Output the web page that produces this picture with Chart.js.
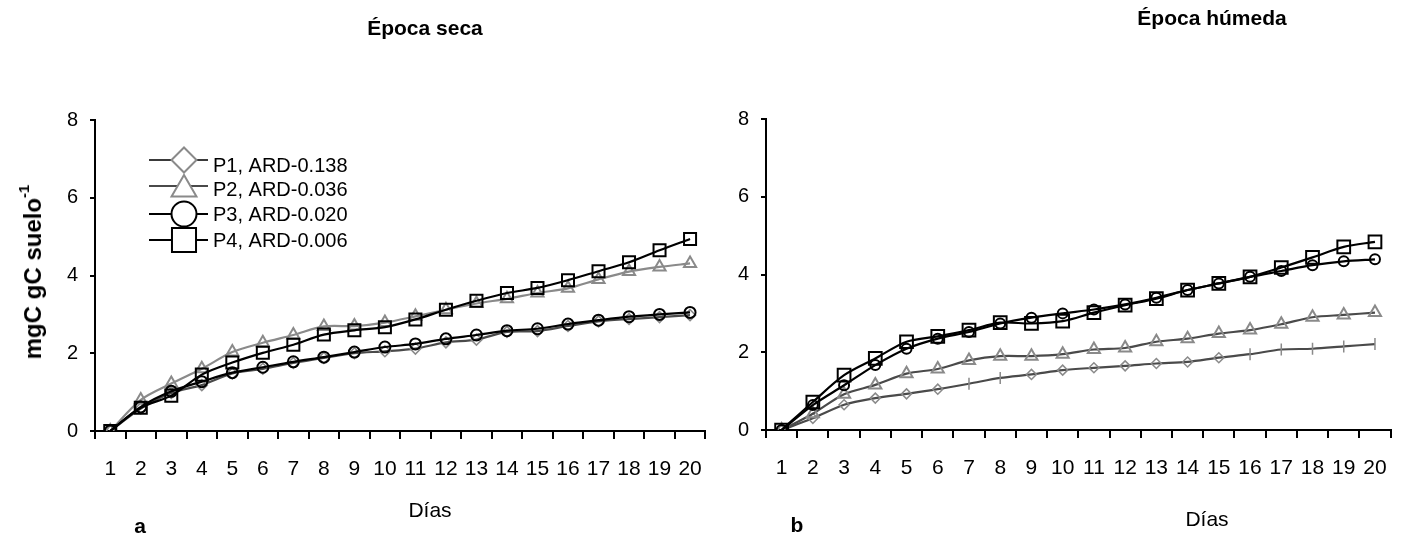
<!DOCTYPE html>
<html lang="es">
<head>
<meta charset="utf-8">
<script src="https://cdn.jsdelivr.net/npm/chart.js@4.4.1/dist/chart.umd.min.js"></script>
<style>
  body { margin: 0; background: #fff; font-family: "Liberation Sans", Arial, sans-serif; }
  #lienzo { position: relative; width: 1405px; height: 538px; overflow: hidden; }
  .caja { position: absolute; top: 0; height: 538px; }
  .txt { position: absolute; white-space: nowrap; color: #000; transform: translate(-50%, -50%); line-height: 1; }
  .titulo { font-weight: bold; font-size: 21px; }
  .eje { font-size: 21px; }
  .letra { font-weight: bold; font-size: 21px; }
  #ylab { font-weight: bold; font-size: 24px; transform: translate(-50%, -50%) rotate(-90deg); }
  #ylab sup { font-size: 15px; position: relative; top: -3px; }
</style>
</head>
<body>
<div id="lienzo">
  <div class="caja" style="left:0;width:720px"><canvas id="graficoSeca"></canvas></div>
  <div class="caja" style="left:720px;width:685px"><canvas id="graficoHumeda"></canvas></div>

  <div class="txt titulo" style="left:425px;top:27px">Época seca</div>
  <div class="txt titulo" style="left:1212px;top:17px">Época húmeda</div>
  <div class="txt" id="ylab" style="left:32px;top:272px">mgC gC suelo<sup>-1</sup></div>
  <div class="txt eje" style="left:430px;top:509px">Días</div>
  <div class="txt eje" style="left:1207px;top:518px">Días</div>
  <div class="txt letra" style="left:140px;top:525px">a</div>
  <div class="txt letra" style="left:797px;top:524px">b</div>
</div>

<script>
// dias de incubacion
const dias = ['1','2','3','4','5','6','7','8','9','10','11','12','13','14','15','16','17','18','19','20'];
const etiquetas = ['P1, ARD-0.138', 'P2, ARD-0.036', 'P3, ARD-0.020', 'P4, ARD-0.006'];
const marcasY = [0, 2, 4, 6, 8];

// Epoca seca (mgC gC suelo-1 acumulado)
const secaP1 = [0, 0.58, 0.98, 1.18, 1.48, 1.60, 1.75, 1.88, 2.00, 2.05, 2.12, 2.28, 2.35, 2.55, 2.57, 2.70, 2.82, 2.88, 2.93, 2.98];
const secaP2 = [0, 0.80, 1.22, 1.60, 2.03, 2.27, 2.47, 2.69, 2.70, 2.79, 2.95, 3.12, 3.28, 3.40, 3.55, 3.67, 3.90, 4.10, 4.22, 4.31];
const secaP3 = [0, 0.62, 1.02, 1.27, 1.50, 1.64, 1.78, 1.90, 2.03, 2.16, 2.24, 2.37, 2.47, 2.58, 2.63, 2.75, 2.85, 2.94, 3.00, 3.05];
const secaP4 = [0, 0.60, 0.91, 1.45, 1.76, 2.01, 2.22, 2.48, 2.59, 2.67, 2.87, 3.12, 3.35, 3.55, 3.68, 3.88, 4.11, 4.34, 4.65, 4.94];

// Epoca humeda
const humP1 = [0, 0.30, 0.65, 0.82, 0.93, 1.05, 1.19, 1.34, 1.43, 1.54, 1.60, 1.65, 1.71, 1.75, 1.86, 1.95, 2.07, 2.09, 2.15, 2.21];
const humP2 = [0, 0.42, 0.92, 1.16, 1.45, 1.57, 1.79, 1.90, 1.90, 1.95, 2.07, 2.11, 2.27, 2.35, 2.48, 2.57, 2.72, 2.90, 2.96, 3.02];
const humP3 = [0, 0.64, 1.15, 1.67, 2.09, 2.35, 2.52, 2.74, 2.89, 3.00, 3.10, 3.23, 3.40, 3.60, 3.77, 3.94, 4.09, 4.24, 4.34, 4.39];
const humP4 = [0, 0.72, 1.41, 1.84, 2.27, 2.41, 2.57, 2.76, 2.74, 2.80, 3.02, 3.21, 3.38, 3.60, 3.77, 3.94, 4.18, 4.44, 4.71, 4.84];

// en humeda P1 sale con marca de raya en estos dias
const diasRaya = [6, 7, 15, 16, 17, 18, 19];

const FUENTE = '"Liberation Sans", Arial, sans-serif';
const GRIS = '#8a8a8a';
const GRIS_OSC = '#4a4a4a';

function serie(label, data, linea, marca, estilo, radio, orden, extra) {
  return Object.assign({
    label: label,
    data: data,
    borderColor: linea,
    borderWidth: 2.2,
    tension: 0.3,
    pointStyle: estilo,
    pointRadius: radio,
    pointBorderColor: marca,
    pointBackgroundColor: 'rgba(0,0,0,0)',
    pointBorderWidth: 2,
    order: orden
  }, extra || {});
}

function escalas(altoX, anchoY) {
  return {
    x: {
      type: 'category',
      offset: true,
      grid: { offset: true, drawOnChartArea: false, drawTicks: true, tickLength: 8, color: '#000', lineWidth: 2 },
      border: { display: true, color: '#000', width: 2 },
      ticks: { color: '#000', font: { family: FUENTE, size: 21 }, padding: 18, autoSkip: false, maxRotation: 0 },
      afterFit: s => { s.height = altoX; }
    },
    y: {
      min: 0, max: 8,
      afterBuildTicks: s => { s.ticks = marcasY.map(v => ({ value: v })); },
      grid: { drawOnChartArea: false, drawTicks: true, tickLength: 5, color: '#000', lineWidth: 2 },
      border: { display: true, color: '#000', width: 2 },
      ticks: { color: '#000', font: { family: FUENTE, size: 20 }, padding: 12 },
      afterFit: s => { s.width = anchoY; }
    }
  };
}

// leyenda dibujada dentro del area, con la linea cruzando la marca
const leyendaPlugin = {
  id: 'leyendaLinea',
  afterDraw(chart, args, opts) {
    if (!opts.filas) return;
    const ctx = chart.ctx;
    ctx.save();
    opts.filas.forEach((f, i) => {
      const ds = chart.data.datasets[i];
      ctx.strokeStyle = f.linea;
      ctx.lineWidth = 2;
      ctx.beginPath();
      ctx.moveTo(opts.x0, f.y);
      ctx.lineTo(opts.x1, f.y);
      ctx.stroke();
      ctx.fillStyle = '#fff';
      ctx.strokeStyle = ds.pointBorderColor;
      ctx.lineWidth = 2;
      Chart.helpers.drawPoint(ctx, { pointStyle: ds.pointStyle, rotation: 0, radius: f.r, borderWidth: 2 }, opts.xm, f.y + (f.dy || 0));
      ctx.fillStyle = '#000';
      ctx.font = '20px ' + FUENTE;
      ctx.textBaseline = 'middle';
      ctx.textAlign = 'left';
      ctx.fillText(ds.label, opts.xt, f.ty);
    });
    ctx.restore();
  }
};

Chart.register(leyendaPlugin);

new Chart(document.getElementById('graficoSeca'), {
  type: 'line',
  data: {
    labels: dias,
    datasets: [
      serie(etiquetas[0], secaP1, GRIS_OSC, GRIS, 'rectRot', 5.5, 4, { pointBorderWidth: 1.5 }),
      serie(etiquetas[1], secaP2, GRIS, GRIS, 'triangle', 7, 3),
      serie(etiquetas[2], secaP3, '#000', '#000', 'circle', 5.5, 2),
      serie(etiquetas[3], secaP4, '#000', '#000', 'rect', 8.5, 1)
    ]
  },
  options: {
    responsive: true,
    maintainAspectRatio: false,
    animation: false,
    events: [],
    layout: { padding: { top: 120, bottom: 57, left: 0, right: 8 } },
    scales: escalas(50, 95),
    plugins: {
      legend: { display: false },
      tooltip: { enabled: false },
      leyendaLinea: {
        x0: 149, x1: 208, xm: 184, xt: 213,
        filas: [
          { y: 160, ty: 166, r: 12.5, linea: '#3a3a3a' },
          { y: 186, ty: 190, r: 14.4, dy: 3.4, linea: '#4a4a4a' },
          { y: 214, ty: 215, r: 12.5, linea: '#000' },
          { y: 240, ty: 241, r: 17, linea: '#000' }
        ]
      }
    }
  }
});

new Chart(document.getElementById('graficoHumeda'), {
  type: 'line',
  data: {
    labels: dias,
    datasets: [
      serie(etiquetas[0], humP1, GRIS_OSC, GRIS, 'rectRot', 5, 4, {
        pointBorderWidth: 1.5,
        pointStyle: c => diasRaya.includes(c.dataIndex) ? 'line' : 'rectRot',
        pointRotation: c => diasRaya.includes(c.dataIndex) ? 90 : 0,
        pointRadius: c => diasRaya.includes(c.dataIndex) ? 6 : 5
      }),
      serie(etiquetas[1], humP2, GRIS_OSC, GRIS, 'triangle', 7, 3),
      serie(etiquetas[2], humP3, '#000', '#000', 'circle', 5, 2),
      serie(etiquetas[3], humP4, '#000', '#000', 'rect', 9, 1)
    ]
  },
  options: {
    responsive: true,
    maintainAspectRatio: false,
    animation: false,
    events: [],
    layout: { padding: { top: 119, bottom: 58, left: 0, right: 14 } },
    scales: escalas(50, 46),
    plugins: {
      legend: { display: false },
      tooltip: { enabled: false }
    }
  }
});
</script>
</body>
</html>
